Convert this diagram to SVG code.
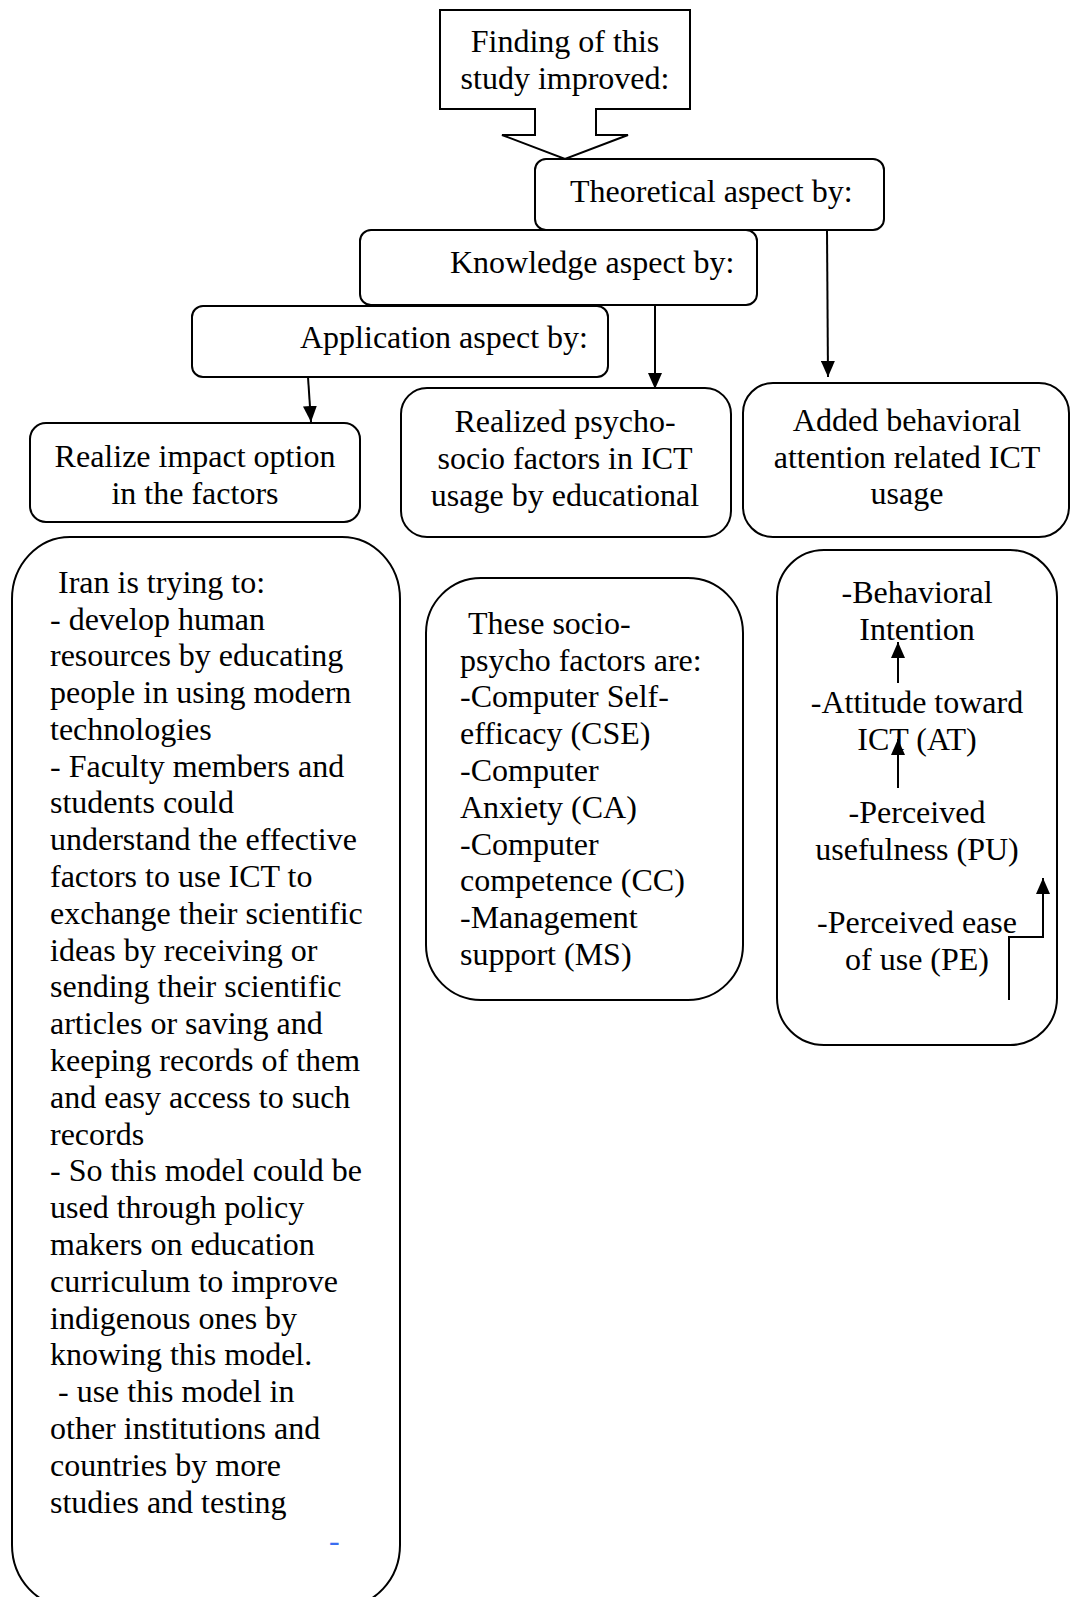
<svg xmlns="http://www.w3.org/2000/svg" width="1071" height="1597" viewBox="0 0 1071 1597">
  <style>
    .box { fill: #ffffff; stroke: #000000; stroke-width: 2; }
    .t { font-family: "Liberation Serif", "Times New Roman", serif; font-size: 32px; fill: #000000; }
    .c { text-anchor: middle; }
    .edge { fill: none; stroke: #000000; stroke-width: 2; }
  </style>
  <defs>
    <marker id="arrow" viewBox="0 0 16 14" refX="16" refY="7" markerWidth="16" markerHeight="14" markerUnits="userSpaceOnUse" orient="auto">
      <path d="M0,0 L16,7 L0,14 Z" fill="#000000"/>
    </marker>
  </defs>

  <!-- Findings callout with downward arrow -->
  <g id="findings">
    <path class="box" d="M440,10 H690 V109 H596 V135 H628 L565,159 L502,135 H535 V109 H440 Z"/>
    <text class="t c" x="565" y="52">Finding of this</text>
    <text class="t c" x="565" y="89">study improved:</text>
  </g>

  <g id="theoretical">
    <rect class="box" x="535" y="159" width="349" height="71" rx="11"/>
    <text class="t" x="570" y="202">Theoretical aspect by:</text>
  </g>

  <g id="knowledge">
    <rect class="box" x="360" y="230" width="397" height="75" rx="11"/>
    <text class="t" x="450" y="273">Knowledge aspect by:</text>
  </g>

  <g id="application">
    <rect class="box" x="192" y="306" width="416" height="71" rx="11"/>
    <text class="t" x="300" y="348">Application aspect by:</text>
  </g>

  <g id="realize-impact">
    <rect class="box" x="30" y="423" width="330" height="99" rx="16"/>
    <text class="t c" x="195" y="467">Realize impact option</text>
    <text class="t c" x="195" y="504">in the factors</text>
  </g>

  <g id="psycho-socio">
    <rect class="box" x="401" y="388" width="330" height="149" rx="26"/>
    <text class="t c" x="565" y="432">Realized psycho-</text>
    <text class="t c" x="565" y="469">socio factors in ICT</text>
    <text class="t c" x="565" y="506">usage by educational</text>
  </g>

  <g id="behavioral-attention">
    <rect class="box" x="743" y="383" width="326" height="154" rx="30"/>
    <text class="t c" x="907" y="431">Added behavioral</text>
    <text class="t c" x="907" y="468">attention related ICT</text>
    <text class="t c" x="907" y="504">usage</text>
  </g>

  <g id="iran-goals">
    <rect class="box" x="12" y="537" width="388" height="1070" rx="58" ry="62"/>
    <text class="t" x="50" y="593">
      <tspan x="58" y="593">Iran is trying to:</tspan>
      <tspan x="50" y="630">- develop human</tspan>
      <tspan x="50" y="666">resources by educating</tspan>
      <tspan x="50" y="703">people in using modern</tspan>
      <tspan x="50" y="740">technologies</tspan>
      <tspan x="50" y="777">- Faculty members and</tspan>
      <tspan x="50" y="813">students could</tspan>
      <tspan x="50" y="850">understand the effective</tspan>
      <tspan x="50" y="887">factors to use ICT to</tspan>
      <tspan x="50" y="924">exchange their scientific</tspan>
      <tspan x="50" y="961">ideas by receiving or</tspan>
      <tspan x="50" y="997">sending their scientific</tspan>
      <tspan x="50" y="1034">articles or saving and</tspan>
      <tspan x="50" y="1071">keeping records of them</tspan>
      <tspan x="50" y="1108">and easy access to such</tspan>
      <tspan x="50" y="1145">records</tspan>
      <tspan x="50" y="1181">- So this model could be</tspan>
      <tspan x="50" y="1218">used through policy</tspan>
      <tspan x="50" y="1255">makers on education</tspan>
      <tspan x="50" y="1292">curriculum to improve</tspan>
      <tspan x="50" y="1329">indigenous ones by</tspan>
      <tspan x="50" y="1365">knowing this model.</tspan>
      <tspan x="58" y="1402">- use this model in</tspan>
      <tspan x="50" y="1439">other institutions and</tspan>
      <tspan x="50" y="1476">countries by more</tspan>
      <tspan x="50" y="1513">studies and testing</tspan>
    </text>
    <text class="t" x="329" y="1551" style="fill:#3a6df0">-</text>
  </g>

  <g id="socio-psycho-factors">
    <rect class="box" x="426" y="578" width="317" height="422" rx="55"/>
    <text class="t" x="460" y="634">
      <tspan x="468" y="634">These socio-</tspan>
      <tspan x="460" y="671">psycho factors are:</tspan>
      <tspan x="460" y="707">-Computer Self-</tspan>
      <tspan x="460" y="744">efficacy (CSE)</tspan>
      <tspan x="460" y="781">-Computer</tspan>
      <tspan x="460" y="818">Anxiety (CA)</tspan>
      <tspan x="460" y="855">-Computer</tspan>
      <tspan x="460" y="891">competence (CC)</tspan>
      <tspan x="460" y="928">-Management</tspan>
      <tspan x="460" y="965">support (MS)</tspan>
    </text>
  </g>

  <g id="tam-model">
    <rect class="box" x="777" y="550" width="280" height="495" rx="47"/>
    <text class="t c" x="917" y="603">-Behavioral</text>
    <text class="t c" x="917" y="640">Intention</text>
    <text class="t c" x="917" y="713">-Attitude toward</text>
    <text class="t c" x="917" y="750">ICT (AT)</text>
    <text class="t c" x="917" y="823">-Perceived</text>
    <text class="t c" x="917" y="860">usefulness (PU)</text>
    <text class="t c" x="917" y="933">-Perceived ease</text>
    <text class="t c" x="917" y="970">of use (PE)</text>
  </g>

  <g id="connectors">
    <line class="edge" x1="308" y1="377" x2="311" y2="422" marker-end="url(#arrow)"/>
    <line class="edge" x1="655" y1="305" x2="655" y2="389" marker-end="url(#arrow)"/>
    <line class="edge" x1="827" y1="230" x2="828" y2="377" marker-end="url(#arrow)"/>
    <line class="edge" x1="898" y1="683" x2="898" y2="642" marker-end="url(#arrow)"/>
    <line class="edge" x1="898" y1="788" x2="898" y2="739" marker-end="url(#arrow)"/>
    <polyline class="edge" points="1009,1000 1009,937 1043,937 1043,878" marker-end="url(#arrow)"/>
  </g>
</svg>
